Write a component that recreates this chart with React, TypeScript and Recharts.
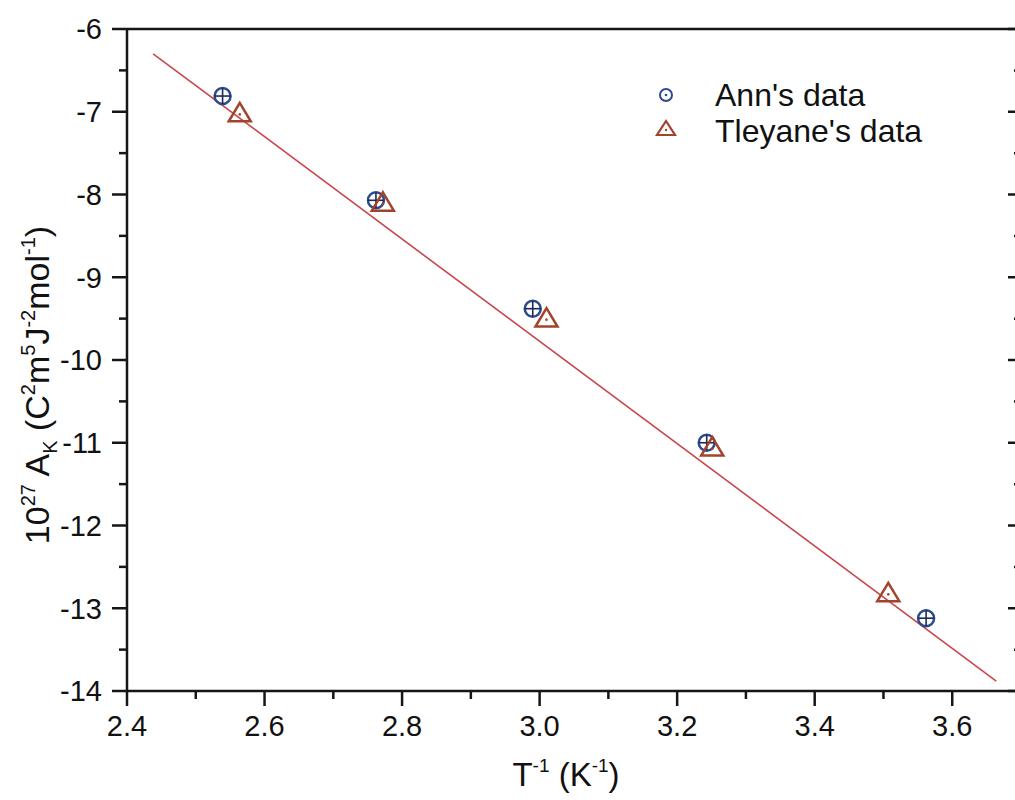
import React from 'react'
import { ScatterChart, Scatter, XAxis, YAxis, Legend } from 'recharts'

// values
const annX = [2.539, 2.762, 2.99, 3.243, 3.562]
const annY = [-6.81, -8.07, -9.38, -11.0, -13.12]
const tleyaneX = [2.564, 2.772, 3.01, 3.251, 3.507]
const tleyaneY = [-7.02, -8.1, -9.5, -11.06, -12.82]
const fitX = [2.438, 3.664]
const fitY = [-6.3, -13.88]

const xTicks = [2.4, 2.5, 2.6, 2.7, 2.8, 2.9, 3.0, 3.1, 3.2, 3.3, 3.4, 3.5, 3.6, 3.7]
const yTicks = [-14, -13.5, -13, -12.5, -12, -11.5, -11, -10.5, -10, -9.5, -9, -8.5, -8, -7.5, -7, -6.5, -6]

const ann = annX.map((x, i) => ({ x, y: annY[i] }))
const tleyane = tleyaneX.map((x, i) => ({ x, y: tleyaneY[i] }))
const fit = fitX.map((x, i) => ({ x, y: fitY[i] }))

const AXIS = '#161616'
const BLUE = '#2d4a8e'
const BROWN = '#a2432c'
const RED = '#c9474c'
const FONT = 'Arial, "Liberation Sans", sans-serif'

const isMajorX = (v: number) => Math.round(v * 10) % 2 === 0
const isMajorY = (v: number) => Number.isInteger(v)

const LeftTick = (props: any) => {
  const { x, y, payload } = props
  const major = isMajorY(payload.value)
  return (
    <g>
      <line x1={x} x2={x - (major ? 15 : 8)} y1={y} y2={y} stroke={AXIS} strokeWidth={2.5} />
      {major && (
        <text x={x - 25} y={y} dy="0.36em" textAnchor="end" fontSize={29} fontFamily={FONT} fill="#111">
          {payload.value}
        </text>
      )}
    </g>
  )
}

const RightTick = (props: any) => {
  const { x, y, payload } = props
  const major = isMajorY(payload.value)
  return <line x1={x} x2={x - (major ? 13 : 7)} y1={y} y2={y} stroke={AXIS} strokeWidth={2.5} />
}

const BottomTick = (props: any) => {
  const { x, y, payload } = props
  const major = isMajorX(payload.value)
  return (
    <g>
      <line x1={x} x2={x} y1={y} y2={y + (major ? 15 : 8)} stroke={AXIS} strokeWidth={2.5} />
      {major && (
        <text x={x} y={y + 45} textAnchor="middle" fontSize={29} fontFamily={FONT} fill="#111">
          {payload.value.toFixed(1)}
        </text>
      )}
    </g>
  )
}

const TopTick = (props: any) => {
  const { x, y, payload } = props
  const major = isMajorX(payload.value)
  return <line x1={x} x2={x} y1={y} y2={y + (major ? 13 : 7)} stroke={AXIS} strokeWidth={2.5} />
}

const CircleMark = (props: any) => {
  const { cx, cy } = props
  const r = 8
  return (
    <g>
      <circle cx={cx} cy={cy} r={r} fill="none" stroke={BLUE} strokeWidth={2.5} />
      <line x1={cx - r} x2={cx + r} y1={cy} y2={cy} stroke="#1d2a55" strokeWidth={1.6} />
      <line x1={cx} x2={cx} y1={cy - r} y2={cy + r} stroke="#1d2a55" strokeWidth={1.6} />
    </g>
  )
}

const TriangleMark = (props: any) => {
  const { cx, cy } = props
  const s = 10.5
  const pts = `${cx},${cy - s} ${cx - s * 1.05},${cy + s * 0.75} ${cx + s * 1.05},${cy + s * 0.75}`
  return (
    <g>
      <polygon points={pts} fill="none" stroke={BROWN} strokeWidth={2.5} />
      <circle cx={cx} cy={cy + 1} r={1.3} fill={BROWN} />
    </g>
  )
}

const LegendBox = () => (
  <svg width={340} height={80} style={{ overflow: 'visible' }}>
    <g>
      <circle cx={16} cy={18} r={6} fill="none" stroke={BLUE} strokeWidth={2} />
      <circle cx={16} cy={18} r={1.3} fill={BLUE} />
      <text x={65} y={29} fontSize={32} fontFamily={FONT} fill="#111">Ann's data</text>
    </g>
    <g>
      <polygon points="16,44 7,58 25,58" fill="none" stroke={BROWN} strokeWidth={2.2} />
      <circle cx={16} cy={53} r={1.2} fill={BROWN} />
      <text x={65} y={65} fontSize={32} fontFamily={FONT} fill="#111">Tleyane's data</text>
    </g>
  </svg>
)

const XTitle = (props: any) => {
  const { viewBox } = props
  const cx = viewBox.x + viewBox.width / 2 - 8
  return (
    <text x={cx} y={viewBox.y + 95} textAnchor="middle" fontSize={33} fontFamily={FONT} fill="#111">
      T<tspan fontSize={19} dy={-14}>-1</tspan>
      <tspan dy={14}> (K</tspan>
      <tspan fontSize={19} dy={-14}>-1</tspan>
      <tspan dy={14}>)</tspan>
    </text>
  )
}

const YTitle = () => {
  const x = 49
  const y = 385
  return (
    <text x={x} y={y} transform={`rotate(-90, ${x}, ${y})`} textAnchor="middle" fontSize={34} fontFamily={FONT} fill="#111">
      10<tspan fontSize={20} dy={-14}>27</tspan>
      <tspan dy={14}> A</tspan>
      <tspan fontSize={20} dy={8}>K</tspan>
      <tspan dy={-8}>  (C</tspan>
      <tspan fontSize={20} dy={-14}>2</tspan>
      <tspan dy={14}>m</tspan>
      <tspan fontSize={20} dy={-14}>5</tspan>
      <tspan dy={14}>J</tspan>
      <tspan fontSize={20} dy={-14}>-2</tspan>
      <tspan dy={14}>mol</tspan>
      <tspan fontSize={20} dy={-14}>-1</tspan>
      <tspan dy={14}>)</tspan>
    </text>
  )
}

export default function App() {
  return (
    <div style={{ position: 'absolute', left: 0, top: 0, width: 1015, height: 800, overflow: 'hidden', background: '#fff' }}>
      <ScatterChart width={1040} height={800} margin={{ top: 19, right: 9, bottom: 69, left: 67 }}>
        <XAxis
          dataKey="x"
          type="number"
          domain={[2.4, 3.7]}
          ticks={xTicks}
          interval={0}
          allowDataOverflow
          height={40}
          axisLine={{ stroke: AXIS, strokeWidth: 2.5 }}
          tickLine={false}
          tickSize={0}
          tickMargin={0}
          tick={<BottomTick />}
          label={<XTitle />}
        />
        <XAxis
          xAxisId="top"
          orientation="top"
          type="number"
          domain={[2.4, 3.7]}
          ticks={xTicks}
          interval={0}
          allowDataOverflow
          height={10}
          axisLine={{ stroke: AXIS, strokeWidth: 2.5 }}
          tickLine={false}
          tickSize={0}
          tickMargin={0}
          tick={<TopTick />}
        />
        <YAxis
          dataKey="y"
          type="number"
          domain={[-14, -6]}
          ticks={yTicks}
          interval={0}
          allowDataOverflow
          width={60}
          axisLine={{ stroke: AXIS, strokeWidth: 2.5 }}
          tickLine={false}
          tickSize={0}
          tickMargin={0}
          tick={<LeftTick />}
          label={<YTitle />}
        />
        <YAxis
          yAxisId="right"
          orientation="right"
          type="number"
          domain={[-14, -6]}
          ticks={yTicks}
          interval={0}
          allowDataOverflow
          width={10}
          axisLine={false}
          tickLine={false}
          tickSize={0}
          tickMargin={0}
          tick={<RightTick />}
        />
        <Legend
          layout="vertical"
          align="center"
          verticalAlign="middle"
          content={<LegendBox />}
          wrapperStyle={{ position: 'absolute', left: 650, top: 77, width: 340, height: 80 }}
        />
        <Scatter
          name="fit"
          data={fit}
          line={{ stroke: RED, strokeWidth: 1.6 }}
          shape={() => <g />}
          isAnimationActive={false}
        />
        <Scatter name="Ann's data" data={ann} shape={<CircleMark />} isAnimationActive={false} />
        <Scatter name="Tleyane's data" data={tleyane} shape={<TriangleMark />} isAnimationActive={false} />
      </ScatterChart>
    </div>
  )
}
